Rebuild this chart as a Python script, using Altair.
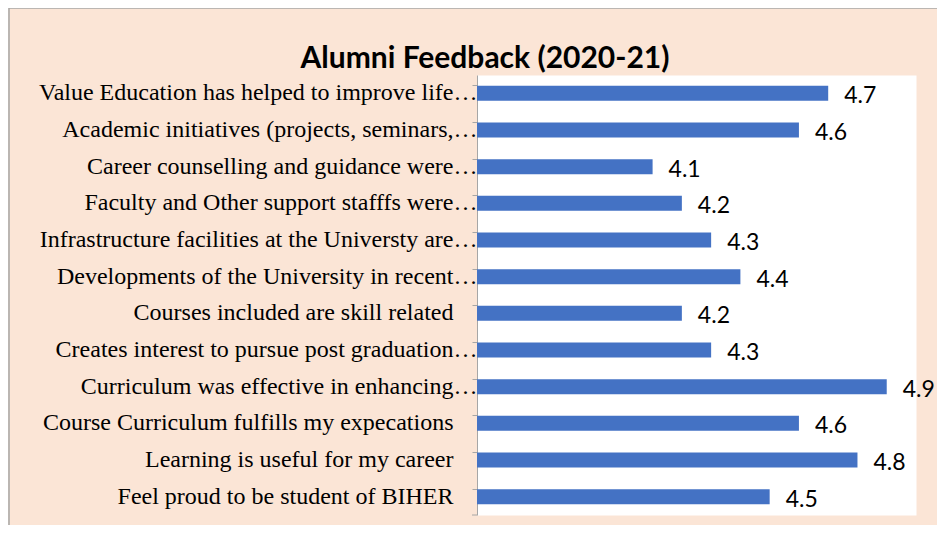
import altair as alt
import pandas as pd

categories = [
    "Value Education has helped to improve life\u2026",
    "Academic initiatives (projects, seminars,\u2026",
    "Career counselling and guidance were\u2026",
    "Faculty and Other support stafffs were\u2026",
    "Infrastructure facilities at the Universty are\u2026",
    "Developments of the University in recent\u2026",
    "Courses included are skill related\u00a0\u00a0\u00a0\u00a0\u200b",
    "Creates interest to pursue post graduation\u2026",
    "Curriculum was effective in enhancing\u2026",
    "Course Curriculum fulfills my expecations\u00a0\u00a0\u00a0\u00a0\u200b",
    "Learning is useful for my career\u00a0\u00a0\u00a0\u00a0\u200b",
    "Feel proud to be student of BIHER\u00a0\u00a0\u00a0\u00a0\u200b",
]
scores = [4.7, 4.6, 4.1, 4.2, 4.3, 4.4, 4.2, 4.3, 4.9, 4.6, 4.8, 4.5]
axis_range = [3.5, 5.0]
title_text = "Alumni Feedback (2020-21)"

df = pd.DataFrame({"item": categories, "score": scores})

base = alt.Chart(df).encode(
    y=alt.Y(
        "item:N",
        sort=categories,
        scale=alt.Scale(paddingInner=0.59, paddingOuter=0.295),
        axis=alt.Axis(
            title=None,
            labelFont="Liberation Serif",
            labelFontSize=24,
            labelColor="black",
            labelLimit=600,
            labelPadding=-5,
            tickSize=5,
            tickColor="#A6A6A6",
            domainColor="#A6A6A6",
            bandPosition=0,
        ),
    ),
    x=alt.X("score:Q", scale=alt.Scale(domain=axis_range, nice=False, zero=False), axis=None),
)

bars = base.mark_bar(color="#4472C4").encode(x2=alt.datum(axis_range[0]))
texts = base.mark_text(
    align="left", baseline="middle", dx=16, dy=3, font="Lato", fontSize=23, color="black"
).encode(text=alt.Text("score:Q", format=".1f"))

single = alt.Data(values=[{"a": 1}])
border = alt.Chart(single).mark_rect(
    fill="transparent", stroke="#A6A6A6", strokeWidth=1.5
).encode(x=alt.value(-468), x2=alt.value(480), y=alt.value(-67), y2=alt.value(460))

title = alt.Chart(single).mark_text(
    text=title_text, font="Lato", fontSize=30, fontWeight="bold", color="black",
    align="center", baseline="alphabetic",
).encode(x=alt.value(8), y=alt.value(-7.5))

bottom_tick = alt.Chart(single).mark_rule(color="#A6A6A6").encode(
    x=alt.value(-5), x2=alt.value(0), y=alt.value(440)
)

chart = alt.layer(border, bars, texts, title, bottom_tick).properties(
    width=439,
    height=440,
    autosize="none",
    padding={"left": 469, "top": 67, "right": 21, "bottom": 10},
    background="#FBE5D6",
).configure_view(fill="white", stroke="transparent")

chart.save("out.html", embed_options={"renderer": "svg", "actions": False})
